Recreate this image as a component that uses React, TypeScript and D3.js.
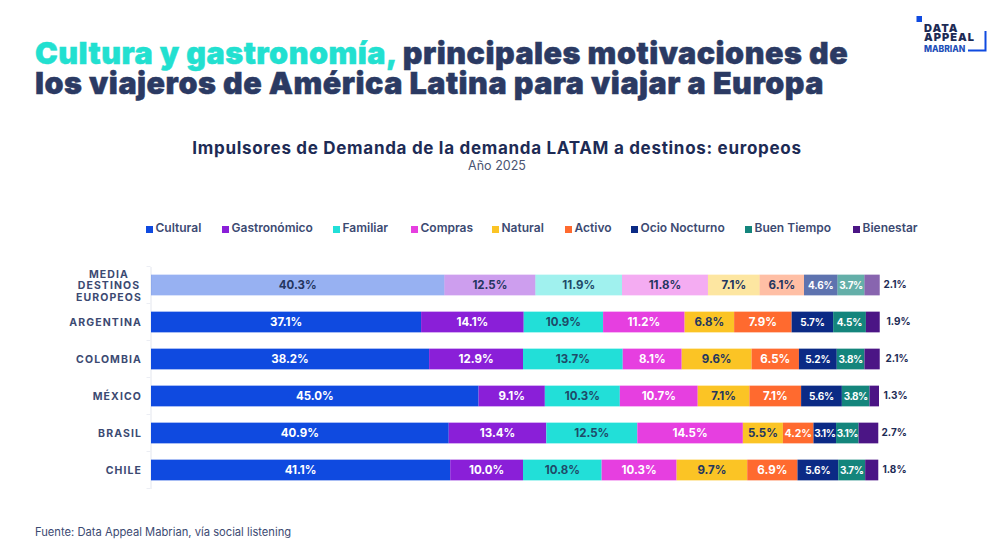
import React, { useEffect, useRef } from 'react';
import * as d3 from 'd3';

const width = 995;
const height = 555;

const categories = ['MEDIA DESTINOS EUROPEOS', 'ARGENTINA', 'COLOMBIA', 'MÉXICO', 'BRASIL', 'CHILE'];
const seriesNames = ['Cultural', 'Gastronómico', 'Familiar', 'Compras', 'Natural', 'Activo', 'Ocio Nocturno', 'Buen Tiempo', 'Bienestar'];
const seriesColors = ['#0f4ae0', '#8a1fd8', '#22dfd8', '#e63fe0', '#fbc425', '#ff6a2f', '#0b2a85', '#14857c', '#4b1585'];
const darkLabelSeries = ['Familiar', 'Natural'];
const strongMediaSeries = ['Ocio Nocturno', 'Buen Tiempo', 'Bienestar'];

const cultural = [40.3, 37.1, 38.2, 45.0, 40.9, 41.1];
const gastronomico = [12.5, 14.1, 12.9, 9.1, 13.4, 10.0];
const familiar = [11.9, 10.9, 13.7, 10.3, 12.5, 10.8];
const compras = [11.8, 11.2, 8.1, 10.7, 14.5, 10.3];
const natural = [7.1, 6.8, 9.6, 7.1, 5.5, 9.7];
const activo = [6.1, 7.9, 6.5, 7.1, 4.2, 6.9];
const ocio = [4.6, 5.7, 5.2, 5.6, 3.1, 5.6];
const buenTiempo = [3.7, 4.5, 3.8, 3.8, 3.1, 3.7];
const bienestar = [2.1, 1.9, 2.1, 1.3, 2.7, 1.8];
const seriesValues = [cultural, gastronomico, familiar, compras, natural, activo, ocio, buenTiempo, bienestar];

// the end labels do not sit at a constant distance from the bars
const endLabelNudge = [0, 3, 2, 0, -2, -1];

const legendX = [146, 222, 333, 411, 492, 565, 631, 745, 853];

const FONT = 'Inter, "Noto Sans", sans-serif';
const INK = '#2b3a63';

export default function App() {
  const svgRef = useRef<SVGSVGElement>(null);

  useEffect(() => {
    if (!svgRef.current) return;
    const svg = d3.select(svgRef.current);
    svg.selectAll('*').remove();

    const x = d3.scaleLinear().domain([0, 100]).range([151, 879]);
    const y = d3.scaleBand().domain(categories).range([266.5, 488.5]).paddingInner(0.44).paddingOuter(0.22);

    const rows = categories.map((c, i) => {
      const row: Record<string, any> = { category: c };
      seriesNames.forEach((s, j) => { row[s] = seriesValues[j][i]; });
      return row;
    });
    const stacked = d3.stack<any>().keys(seriesNames)(rows);

    // Title
    const title = svg.append('text').attr('font-family', FONT).attr('font-weight', 900)
      .attr('font-size', 30.5).attr('letter-spacing', 0.5).attr('stroke-width', 0.5);
    const line1 = title.append('tspan').attr('x', 35).attr('y', 64);
    line1.append('tspan').attr('fill', '#22e0d0').attr('stroke', '#22e0d0').text('Cultura y gastronomía, ');
    line1.append('tspan').attr('fill', INK).attr('stroke', INK).text('principales motivaciones de');
    title.append('tspan').attr('x', 35).attr('y', 94).attr('fill', INK).attr('stroke', INK).text('los viajeros de América Latina para viajar a Europa');

    // Logo
    svg.append('rect').attr('x', 916.5).attr('y', 16).attr('width', 5.5).attr('height', 6).attr('fill', '#0f4ae0');
    const logo = svg.append('g').attr('font-family', FONT).attr('font-weight', 900);
    logo.append('text').attr('x', 924).attr('y', 31.5).attr('font-size', 11).attr('letter-spacing', 1).attr('fill', '#1d2b55').text('DATA');
    logo.append('text').attr('x', 924).attr('y', 41).attr('font-size', 11).attr('letter-spacing', 1).attr('fill', '#1d2b55').text('APPEAL');
    logo.append('text').attr('x', 924).attr('y', 51.5).attr('font-size', 8.5).attr('font-weight', 800).attr('fill', '#1f4fb8').text('MABRIAN');
    svg.append('path').attr('d', 'M968,50.5H985.5V31').attr('fill', 'none').attr('stroke', '#0f4ae0').attr('stroke-width', 2);

    // Chart title
    svg.append('text').attr('x', 497).attr('y', 154).attr('text-anchor', 'middle')
      .attr('font-family', FONT).attr('font-weight', 700).attr('font-size', 17).attr('letter-spacing', 0.7).attr('fill', '#1d2b55')
      .text('Impulsores de Demanda de la demanda LATAM a destinos: europeos');
    svg.append('text').attr('x', 497).attr('y', 169.5).attr('text-anchor', 'middle')
      .attr('font-family', FONT).attr('font-size', 12.5).attr('fill', '#4a5472').text('Año 2025');

    // Legend
    const legend = svg.append('g').attr('font-family', FONT).attr('font-size', 12).attr('font-weight', 600);
    seriesNames.forEach((s, i) => {
      legend.append('rect').attr('x', legendX[i]).attr('y', 226).attr('width', 7).attr('height', 7).attr('fill', seriesColors[i]);
      legend.append('text').attr('x', legendX[i] + 9.5).attr('y', 232).attr('fill', '#3c4a72').text(s);
    });

    // Axis, with faint ticks on the band edges
    const axis = svg.append('g')
      .attr('transform', 'translate(150.5,0)')
      .call(d3.axisLeft(y).tickSize(0).tickFormat(() => ''));
    axis.select('.domain').attr('stroke', '#e3e6ee').attr('stroke-width', 1);
    const edges = [...categories.map(c => (y(c) || 0) - (y.step() * y.paddingInner()) / 2), 488.5];
    axis.selectAll('line.edge').data(edges).enter().append('line')
      .attr('class', 'edge').attr('x1', -4).attr('x2', 0).attr('y1', d => d).attr('y2', d => d)
      .attr('stroke', '#eceef4');

    // Category labels
    const labels = svg.append('g').attr('font-family', FONT).attr('font-size', 10.5).attr('font-weight', 700)
      .attr('fill', '#3c4a72').attr('letter-spacing', 1.1);
    categories.forEach(c => {
      const cy = (y(c) || 0) + y.bandwidth() / 2;
      const words = c === categories[0] ? c.split(' ') : [c];
      words.forEach((w, i) => {
        labels.append('text')
          .attr('x', words.length > 1 ? 109 : 142)
          .attr('y', cy + 4 + (i - (words.length - 1) / 2) * 11.5)
          .attr('text-anchor', words.length > 1 ? 'middle' : 'end')
          .text(w);
      });
    });

    // Bars
    stacked.forEach((layer, s) => {
      const name = seriesNames[s];
      const group = svg.append('g');
      layer.forEach((d, i) => {
        const cat = categories[i];
        const barX = x(d[0]);
        const barW = x(d[1]) - x(d[0]);
        const barY = y(cat) || 0;
        group.append('rect')
          .attr('x', barX)
          .attr('y', barY)
          .attr('width', barW)
          .attr('height', y.bandwidth())
          .attr('fill', seriesColors[s])
          .attr('fill-opacity', i === 0 ? (strongMediaSeries.includes(name) ? 0.66 : 0.43) : 1);

        const value = seriesValues[s][i];
        const cy = barY + y.bandwidth() / 2 + 4;
        if (name === 'Bienestar') {
          svg.append('text')
            .attr('x', x(100) + 4.5 + endLabelNudge[i])
            .attr('y', cy - 1)
            .attr('font-family', FONT).attr('font-size', 10).attr('font-weight', 700)
            .attr('fill', '#1d2b55')
            .text(`${value.toFixed(1)}%`);
          return;
        }
        const dark = i === 0 ? !strongMediaSeries.includes(name) : darkLabelSeries.includes(name);
        const small = s > 5 && value < 6;
        const narrow = name === 'Activo' && value < 5;
        svg.append('text')
          .attr('x', barX + barW / 2)
          .attr('y', cy)
          .attr('text-anchor', 'middle')
          .attr('font-family', FONT)
          .attr('font-size', small ? 10 : narrow ? 10.5 : 11.5)
          .attr('letter-spacing', small ? (value < 4 ? -0.5 : -0.2) : 0)
          .attr('font-weight', 700)
          .attr('fill', dark ? (name === 'Familiar' ? '#1f4a68' : '#24365f') : '#ffffff')
          .text(`${value.toFixed(1)}%`);
      });
    });

    // Source
    svg.append('text').attr('x', 35).attr('y', 536)
      .attr('font-family', FONT).attr('font-size', 11.2).attr('fill', '#3c4a72')
      .text('Fuente: Data Appeal Mabrian, vía social listening');
  }, []);

  return (
    <svg
      ref={svgRef}
      width={width}
      height={height}
      style={{ position: 'absolute', left: 0, top: 0, background: '#fff' }}
    />
  );
}
